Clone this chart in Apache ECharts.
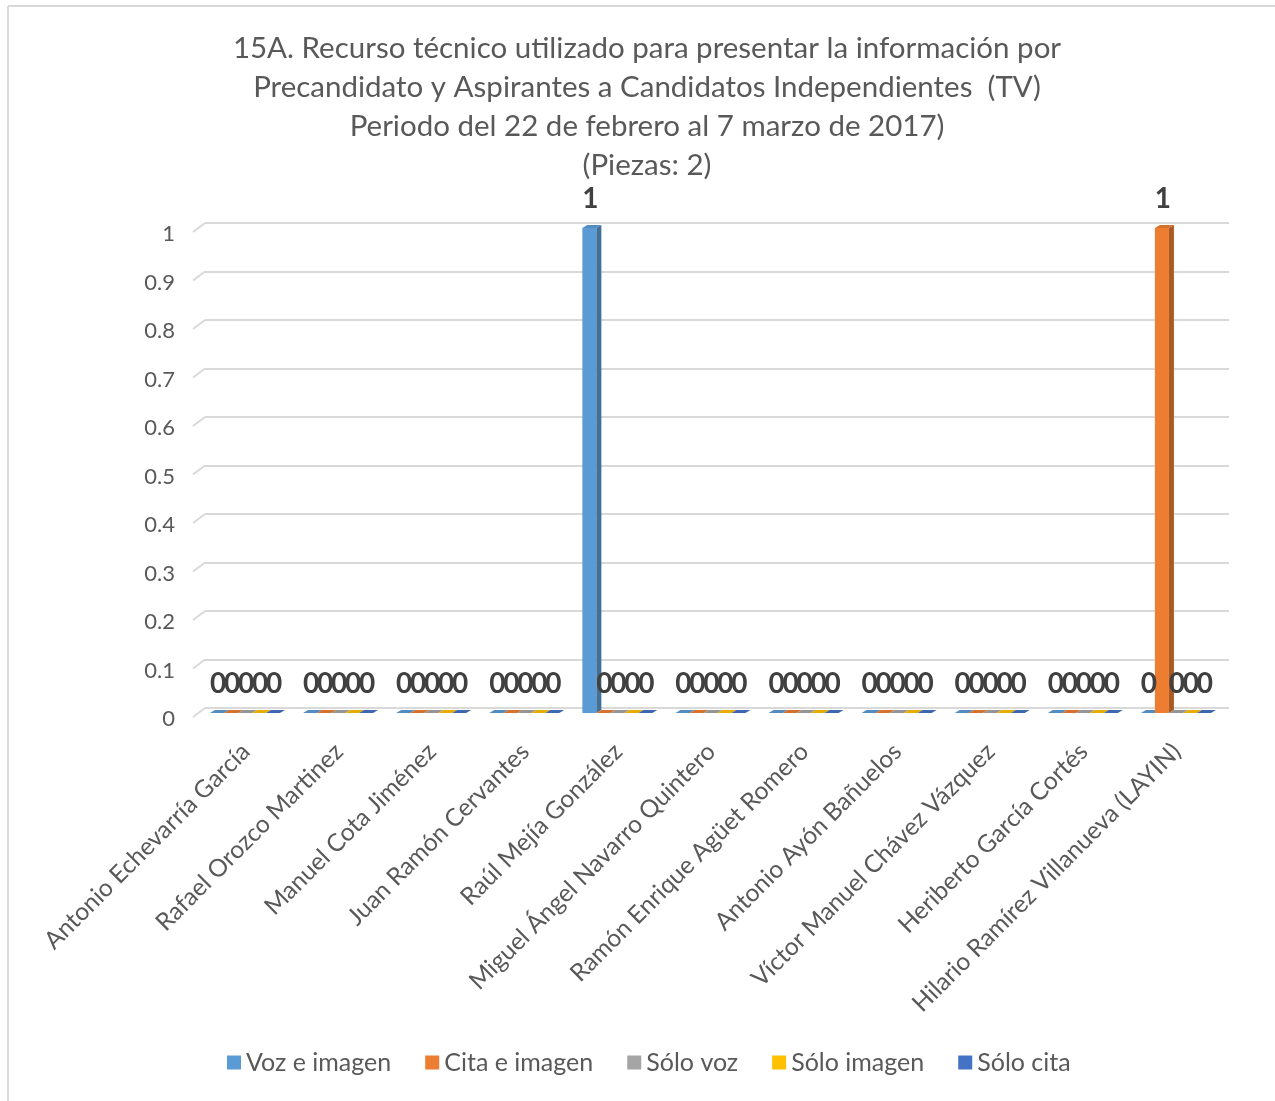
<!DOCTYPE html>
<html>
<head>
<meta charset="utf-8">
<script src="https://cdn.jsdelivr.net/npm/echarts@6/dist/echarts.min.js"></script>
<style>
html,body{margin:0;padding:0;background:#fff;}
#chart{width:1275px;height:1101px;}
</style>
</head>
<body>
<div id="chart"></div>
<script>
const categories = [
  'Antonio Echevarría García',
  'Rafael Orozco Martinez',
  'Manuel Cota Jiménez',
  'Juan Ramón Cervantes',
  'Raúl Mejía González',
  'Miguel Ángel Navarro Quintero',
  'Ramón Enrique Agüet Romero',
  'Antonio Ayón Bañuelos',
  'Víctor Manuel Chávez Vázquez',
  'Heriberto García Cortés',
  'Hilario Ramírez Villanueva (LAYIN)'
];
const seriesNames = ['Voz e imagen', 'Cita e imagen', 'Sólo voz', 'Sólo imagen', 'Sólo cita'];
const vozImagen   = [0, 0, 0, 0, 1, 0, 0, 0, 0, 0, 0];
const citaImagen  = [0, 0, 0, 0, 0, 0, 0, 0, 0, 0, 1];
const soloVoz     = [0, 0, 0, 0, 0, 0, 0, 0, 0, 0, 0];
const soloImagen  = [0, 0, 0, 0, 0, 0, 0, 0, 0, 0, 0];
const soloCita    = [0, 0, 0, 0, 0, 0, 0, 0, 0, 0, 0];
const yTicks = [0, 0.1, 0.2, 0.3, 0.4, 0.5, 0.6, 0.7, 0.8, 0.9, 1];

const seriesValues = [vozImagen, citaImagen, soloVoz, soloImagen, soloCita];
const colors = ['#5B9BD5', '#ED7D31', '#A5A5A5', '#FFC000', '#4472C4'];
const FONT = 'Lato, "Open Sans", sans-serif';

function shade(hex, f) {
  const n = parseInt(hex.slice(1), 16);
  let r = (n >> 16) & 255, g = (n >> 8) & 255, b = n & 255;
  r = Math.round(r * f); g = Math.round(g * f); b = Math.round(b * f);
  return 'rgb(' + Math.min(255, r) + ',' + Math.min(255, g) + ',' + Math.min(255, b) + ')';
}

function barRender(params, api) {
  const idx = api.value(0), v = api.value(1);
  const cs = params.coordSys;
  const bw = cs.width / categories.length;
  const s = params.seriesIndex;
  const base = api.coord([idx, 0]);
  const top = api.coord([idx, v]);
  const w = 14, dx = 5, dy = 3;
  const x0 = cs.x + idx * bw + 5 + s * w;
  const yb = base[1] + 5, yt = top[1] + 5;
  const c = colors[s];
  return {
    type: 'group',
    children: [
      { type: 'rect', shape: { x: x0, y: yt, width: w, height: Math.max(0, yb - yt) }, style: { fill: c } },
      { type: 'polygon', shape: { points: [[x0 + w, yt], [x0 + w + dx, yt - dy], [x0 + w + dx, yb - dy], [x0 + w, yb]] }, style: { fill: shade(c, 0.72) } },
      { type: 'polygon', shape: { points: [[x0, yt], [x0 + dx, yt - dy], [x0 + w + dx, yt - dy], [x0 + w, yt]] }, style: { fill: shade(c, 0.9) } },
      { type: 'text', z2: 20, style: { text: String(v), x: x0 + w / 2 + 1, y: yt - 29, align: 'center', verticalAlign: 'middle', font: 'bold 28px ' + FONT, fill: '#404040' } }
    ]
  };
}

const series = seriesNames.map((name, s) => ({
  name: name,
  type: 'custom',
  itemStyle: { color: colors[s] },
  renderItem: barRender,
  data: seriesValues[s].map((v, i) => [i, v]),
  z: 3
}));

series.push({
  name: 'slant',
  type: 'custom',
  silent: true,
  renderItem: function (params, api) {
    const cs = params.coordSys;
    const y = api.coord([0, api.value(1)])[1];
    return { type: 'line', shape: { x1: cs.x - 12, y1: y + 9, x2: cs.x, y2: y }, style: { stroke: '#d9d9d9', lineWidth: 2 } };
  },
  data: yTicks.map(v => [0, v]),
  z: 1
});

const chart = echarts.init(document.getElementById('chart'));
chart.setOption({
  animation: false,
  backgroundColor: '#fff',
  textStyle: { fontFamily: FONT },
  title: {
    text: '15A. Recurso técnico utilizado para presentar la información por\nPrecandidato y Aspirantes a Candidatos Independientes  (TV)\nPeriodo del 22 de febrero al 7 marzo de 2017)\n(Piezas: 2)',
    left: 642,
    textAlign: 'center',
    top: 24,
    textStyle: { fontSize: 29.5, fontWeight: 'normal', color: '#595959', lineHeight: 39, fontFamily: FONT }
  },
  graphic: [
    { type: 'line', shape: { x1: 8, y1: 6, x2: 1275, y2: 6 }, style: { stroke: '#d9d9d9', lineWidth: 2 } },
    { type: 'line', shape: { x1: 8, y1: 6, x2: 8, y2: 1101 }, style: { stroke: '#d9d9d9', lineWidth: 2 } }
  ],
  legend: {
    data: seriesNames,
    bottom: 21,
    left: 222,
    icon: 'rect',
    itemWidth: 14,
    itemHeight: 14,
    itemGap: 34,
    itemTextGap: 7,
    textStyle: { fontSize: 25, color: '#595959', fontFamily: FONT }
  },
  grid: { left: 205, right: 46, top: 223, bottom: 393 },
  xAxis: {
    type: 'category',
    data: categories,
    axisLine: { show: false },
    axisTick: { show: false },
    axisLabel: { rotate: 45, margin: 34, fontSize: 24.5, color: '#595959', fontFamily: FONT, interval: 0, padding: [0, 8, 0, 0] }
  },
  yAxis: {
    type: 'value',
    min: 0,
    max: 1,
    interval: 0.1,
    axisLine: { show: false },
    axisTick: { show: false },
    axisLabel: { margin: 30, fontSize: 22, color: '#595959', fontFamily: FONT, verticalAlign: 'top' },
    splitLine: { lineStyle: { color: '#d9d9d9', width: 2 } }
  },
  series: series
});
</script>
</body>
</html>
